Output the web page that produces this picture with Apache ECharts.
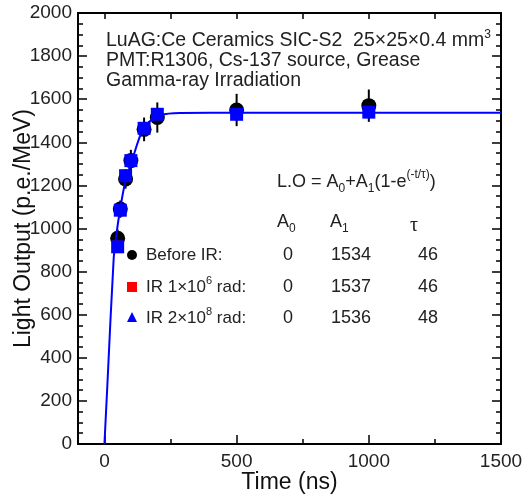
<!DOCTYPE html>
<html>
<head>
<meta charset="utf-8">
<script src="https://cdn.jsdelivr.net/npm/echarts@6/dist/echarts.min.js"></script>
<style>
  html, body { margin: 0; padding: 0; background: #fff; }
  #light_output { width: 530px; height: 497px; }
</style>
</head>
<body>
<div id="light_output"></div>
<script>
// measurement times (ns)
var times = [50, 60, 80, 100, 150, 200, 500, 1000];
// light output, p.e./MeV
var before_ir = [955, 1090, 1230, 1315, 1460, 1515, 1550, 1570];
var before_err = [40, 40, 45, 50, 55, 70, 75, 75];
var ir_1e6 = [918, 1086, 1244, 1315, 1465, 1530, 1532, 1541];
var ir_2e8 = [915, 1085, 1245, 1315, 1465, 1530, 1530, 1540];
// fitted curve
var fit_t = [0, 12, 35, 45, 60, 79, 105, 148, 199, 262, 400, 1500];
var fit_lo = [0, 297, 862, 970, 1094, 1217, 1318, 1465, 1519, 1535, 1537, 1537];
// fit table
var fit_rows = ['Before IR:', 'IR 1×10^6 rad:', 'IR 2×10^8 rad:'];
var fit_a0 = ['0', '0', '0'];
var fit_a1 = ['1534', '1537', '1536'];
var fit_tau = ['46', '46', '48'];
var x_labels = [0, 500, 1000, 1500];
var x_minor = [250, 750, 1250];

var FONT = '"Liberation Sans", Arial, sans-serif';

function pairs(xs, ys) {
  var out = [];
  for (var i = 0; i < xs.length; i++) out.push([xs[i], ys[i]]);
  return out;
}

function graph_light_output() {
  var myChart = echarts.init(document.getElementById('light_output'));

  var err_data = [];
  for (var i = 0; i < times.length; i++) {
    err_data.push([times[i], before_ir[i] - before_err[i], before_ir[i] + before_err[i]]);
  }

  var rowY = [255, 287, 318];
  var graphics = [
    {type: 'text', x: 106, y: 40, style: {
      text: '{a|LuAG:Ce Ceramics SIC-S2  25×25×0.4 mm}{s|3}',
      verticalAlign: 'middle', fill: '#222',
      rich: {a: {fontSize: 19.5, fontFamily: FONT, lineHeight: 22, verticalAlign: 'bottom'},
             s: {fontSize: 12, fontFamily: FONT, lineHeight: 22, verticalAlign: 'top'}}
    }},
    {type: 'text', x: 106, y: 61, style: {text: 'PMT:R1306, Cs-137 source, Grease', font: '19.5px ' + FONT, fill: '#222', verticalAlign: 'middle'}},
    {type: 'text', x: 106, y: 81, style: {text: 'Gamma-ray Irradiation', font: '19.5px ' + FONT, fill: '#222', verticalAlign: 'middle'}},
    {type: 'text', x: 277, y: 182, style: {
      text: '{a|L.O = A}{b|0}{a|+A}{b|1}{a|(1-e}{c|(-t/τ)}{a|)}',
      verticalAlign: 'middle', fill: '#222',
      rich: {a: {fontSize: 18, fontFamily: FONT, lineHeight: 26, verticalAlign: 'middle'},
             b: {fontSize: 12, fontFamily: FONT, lineHeight: 26, verticalAlign: 'bottom'},
             c: {fontSize: 12, fontFamily: FONT, lineHeight: 26, verticalAlign: 'top'}}
    }},
    {type: 'text', x: 277, y: 222, style: {
      text: '{a|A}{b|0}', verticalAlign: 'middle', fill: '#222',
      rich: {a: {fontSize: 18, fontFamily: FONT, lineHeight: 26, verticalAlign: 'middle'},
             b: {fontSize: 12, fontFamily: FONT, lineHeight: 26, verticalAlign: 'bottom'}}
    }},
    {type: 'text', x: 330, y: 222, style: {
      text: '{a|A}{b|1}', verticalAlign: 'middle', fill: '#222',
      rich: {a: {fontSize: 18, fontFamily: FONT, lineHeight: 26, verticalAlign: 'middle'},
             b: {fontSize: 12, fontFamily: FONT, lineHeight: 26, verticalAlign: 'bottom'}}
    }},
    {type: 'text', x: 410, y: 226, style: {text: 'τ', font: '20px "Liberation Serif", serif', fill: '#222', verticalAlign: 'middle'}},
    {type: 'circle', shape: {cx: 132, cy: rowY[0], r: 5}, style: {fill: '#000'}},
    {type: 'rect', shape: {x: 127, y: rowY[1] - 5, width: 10, height: 10}, style: {fill: '#ff0000'}},
    {type: 'polygon', shape: {points: [[132, rowY[2] - 6], [137, rowY[2] + 4], [127, rowY[2] + 4]]}, style: {fill: '#0000ff'}}
  ];
  for (var r = 0; r < fit_rows.length; r++) {
    var parts = fit_rows[r].split('^');
    var label;
    if (parts.length > 1) {
      label = '{a|' + parts[0] + '}{s|' + parts[1].charAt(0) + '}{a|' + parts[1].slice(1) + '}';
    } else {
      label = '{a|' + parts[0] + '}';
    }
    graphics.push({type: 'text', x: 146, y: rowY[r], style: {
      text: label, verticalAlign: 'middle', fill: '#222',
      rich: {a: {fontSize: 17, fontFamily: FONT, lineHeight: 24, verticalAlign: 'middle'},
             s: {fontSize: 11, fontFamily: FONT, lineHeight: 24, verticalAlign: 'top'}}
    }});
    graphics.push({type: 'text', x: 288, y: rowY[r], style: {text: fit_a0[r], font: '18px ' + FONT, fill: '#222', align: 'center', verticalAlign: 'middle'}});
    graphics.push({type: 'text', x: 331, y: rowY[r], style: {text: fit_a1[r], font: '18px ' + FONT, fill: '#222', verticalAlign: 'middle'}});
    graphics.push({type: 'text', x: 418, y: rowY[r], style: {text: fit_tau[r], font: '18px ' + FONT, fill: '#222', verticalAlign: 'middle'}});
  }

  var axisLine = {show: true, onZero: false, lineStyle: {color: '#000', width: 2}};
  var plain = function(v) { return String(v); };
  var option = {
      backgroundColor: '#fff',
      animation: false,
      textStyle: {fontFamily: FONT},
      grid: {left: 78, right: 29, top: 13, bottom: 53, containLabel: false, outerBoundsMode: 'none'},
      xAxis: [
          {
              type: 'value', position: 'bottom', min: -100, max: 1500,
              name: 'Time (ns)', nameLocation: 'middle', nameGap: 27, nameMoveOverlap: false,
              nameTextStyle: {fontSize: 23, color: '#111', fontFamily: FONT},
              axisLine: axisLine,
              axisTick: {show: true, inside: true, length: 9, customValues: x_labels, lineStyle: {color: '#000', width: 1.5}},
              axisLabel: {show: true, customValues: x_labels, formatter: plain, fontSize: 19, color: '#222', margin: 8, fontFamily: FONT},
              splitLine: {show: false}
          },
          {
              type: 'value', position: 'bottom', min: -100, max: 1500,
              axisLine: {show: false},
              axisTick: {show: true, inside: true, length: 5, customValues: x_minor, lineStyle: {color: '#000', width: 1.5}},
              axisLabel: {show: false, customValues: x_minor},
              splitLine: {show: false}
          },
          {
              type: 'value', position: 'top', min: -100, max: 1500,
              axisLine: axisLine,
              axisTick: {show: true, inside: true, length: 6, customValues: [0, 250, 500, 750, 1000, 1250], lineStyle: {color: '#000', width: 1.5}},
              axisLabel: {show: false, customValues: [0, 250, 500, 750, 1000, 1250]},
              splitLine: {show: false}
          }
      ],
      yAxis: [
          {
              type: 'value', position: 'left', min: 0, max: 2000, interval: 200,
              name: 'Light Output (p.e./MeV)', nameLocation: 'middle', nameGap: 43, nameMoveOverlap: false,
              nameTextStyle: {fontSize: 23, color: '#111', fontFamily: FONT},
              axisLine: axisLine,
              axisTick: {show: true, inside: true, length: 9, lineStyle: {color: '#000', width: 1.5}},
              minorTick: {show: true, splitNumber: 4, length: 5, lineStyle: {color: '#000', width: 1.5}},
              axisLabel: {fontSize: 19, color: '#222', margin: 6, formatter: plain, fontFamily: FONT},
              splitLine: {show: false}
          },
          {
              type: 'value', position: 'right', min: 0, max: 2000, interval: 200,
              axisLine: axisLine,
              axisTick: {show: true, inside: true, length: 9, lineStyle: {color: '#000', width: 1.5}},
              minorTick: {show: true, splitNumber: 4, length: 5, lineStyle: {color: '#000', width: 1.5}},
              axisLabel: {show: false},
              splitLine: {show: false}
          }
      ],
      graphic: graphics,
      series: [
          {
              name: 'err', type: 'custom', xAxisIndex: 0, yAxisIndex: 0, z: 2,
              data: err_data,
              renderItem: function(params, api) {
                  var p1 = api.coord([api.value(0), api.value(1)]);
                  var p2 = api.coord([api.value(0), api.value(2)]);
                  return {type: 'line', shape: {x1: p1[0], y1: p1[1], x2: p2[0], y2: p2[1]},
                          style: {stroke: '#000', lineWidth: 2}};
              }
          },
          {
              name: 'Before IR', type: 'scatter', z: 3, symbol: 'circle', symbolSize: 15,
              itemStyle: {color: '#000', opacity: 1}, data: pairs(times, before_ir)
          },
          {
              name: 'fit', type: 'line', z: 4, smooth: 0.3, showSymbol: false,
              lineStyle: {color: '#0000ff', width: 2}, data: pairs(fit_t, fit_lo)
          },
          {
              name: 'IR 1e6', type: 'scatter', z: 5, symbol: 'rect', symbolSize: 11,
              itemStyle: {color: '#ff0000', opacity: 1}, data: pairs(times, ir_1e6)
          },
          {
              name: 'IR 2e8', type: 'scatter', z: 6, symbol: 'rect', symbolSize: 13,
              itemStyle: {color: '#0000ff', opacity: 1}, data: pairs(times, ir_2e8)
          }
      ]
  };
  myChart.setOption(option);
}
graph_light_output();
</script>
</body>
</html>
